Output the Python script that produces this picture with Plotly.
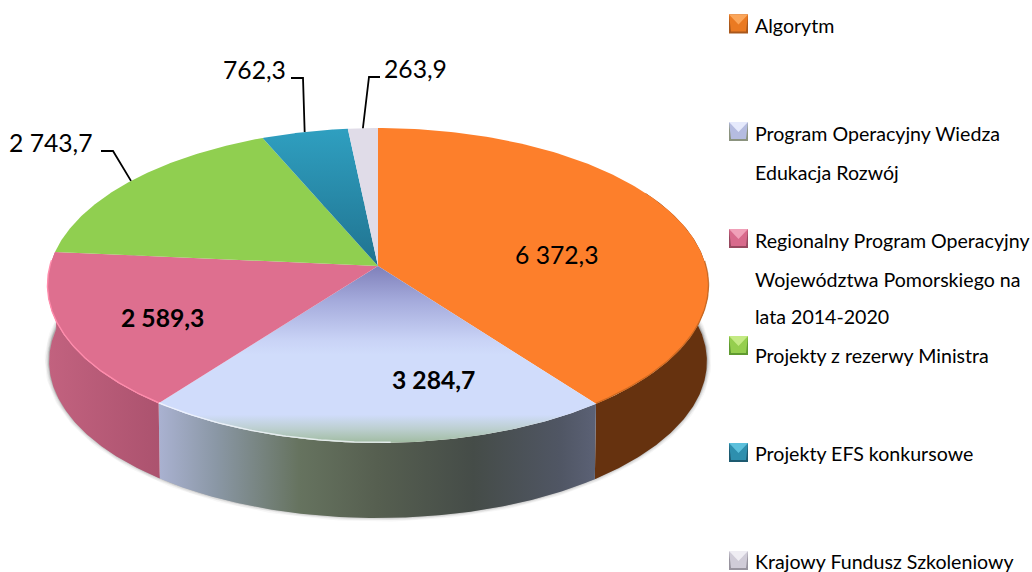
import numpy as np
import plotly.graph_objects as go

# ---- data ----
categories = ["Algorytm", "Program Operacyjny Wiedza Edukacja Rozwój",
              "Regionalny Program Operacyjny Województwa Pomorskiego na lata 2014-2020",
              "Projekty z rezerwy Ministra", "Projekty EFS konkursowe", "Krajowy Fundusz Szkoleniowy"]
values = [6372.3, 3284.7, 2589.3, 2743.7, 762.3, 263.9]
value_labels = ["6 372,3", "3 284,7", "2 589,3", "2 743,7", "762,3", "263,9"]
legend_lines = [["Algorytm"], ["Program Operacyjny Wiedza", "Edukacja Rozwój"],
                ["Regionalny Program Operacyjny", "Województwa Pomorskiego na", "lata 2014-2020"],
                ["Projekty z rezerwy Ministra"], ["Projekty EFS konkursowe"], ["Krajowy Fundusz Szkoleniowy"]]

# ---- layout / style ----
CX, CY = 378.0, 266.0
A, B, K = 328.0, 155.0, 0.1238
DEPTH, SHRINK = 76.0, 0.995
FONT = "Lato"
FS_LEG, FS_LAB = 19.6, 24.7

top_fill = [
    dict(color="#fd7f2b"),
    dict(grad=dict(type="vertical", start=266, stop=443, colorscale=[
        [0, "#7f80ba"], [0.2, "#a5abdc"], [0.42, "#c9d3f6"], [0.5, "#d0dcfb"], [0.84, "#d0dcfb"],
        [0.92, "#bccfd0"], [1, "#a0bba0"]])),
    dict(color="#de6f8f"),
    dict(color="#90cf50"),
    dict(grad=dict(type="vertical", start=129, stop=266, colorscale=[[0, "#2f9fc0"], [1, "#207390"]])),
    dict(color="#e0dce8"),
]
side_fill = [
    dict(color="#66320f"),
    dict(grad=dict(type="horizontal", start=160, stop=595, colorscale=[
        [0, "#a9b1d0"], [0.13, "#8a97a5"], [0.32, "#66735f"], [0.5, "#565f50"], [0.72, "#454c48"],
        [0.92, "#505664"], [1, "#5b6175"]])),
    dict(grad=dict(type="horizontal", start=48, stop=163, colorscale=[[0, "#c2627f"], [1, "#ab526e"]])),
    dict(color="#90cf50"), dict(color="#2f9fc0"), dict(color="#e0dce8"),
]
rim_colors = ["rgba(190,95,25,0.7)", "rgba(245,248,255,0.75)", "#ff8cac", "#90cf50", "#2f9fc0", "#e0dce8"]
leg_y = [24, 131.5, 238.5, 345.5, 452.5, 560.5]
leg_icon = [("#fba65a", "#ea7a22", "#a9581c"), ("#e6eafc", "#b5bce0", "#8b937f"),
            ("#f0a0b8", "#d86a8c", "#97485f"), ("#c4ea84", "#95ce4e", "#5f9a30"),
            ("#5cc0dc", "#2e8fae", "#1d5a70"), ("#efedf3", "#d0ccd8", "#98949f")]
leader_elbow = [None, None, None, [(101, 151), (113, 151)], [(291, 78), (303, 78)], [(380, 77), (369, 77)]]


def project(theta, bottom=False):
    """theta: clockwise degrees from the top of the pie"""
    t = np.radians(theta)
    X, Y = np.sin(t), -np.cos(t)
    d = 1 - K * Y
    s = SHRINK if bottom else 1.0
    return CX + s * A * X / d, CY + (DEPTH if bottom else 0) + s * B * Y / d


def fill_kw(style):
    if "grad" in style:
        return dict(fillgradient=style["grad"])
    return dict(fillcolor=style["color"])


total = sum(values)
edges = np.concatenate([[0], np.cumsum(values)]) / total * 360
fig = go.Figure()


def poly(x, y, **kw):
    fig.add_trace(go.Scatter(x=x, y=y, mode="lines", fill="toself", line=dict(width=0),
                             hoverinfo="skip", **kw))


# soft shadow under the pie
th = np.linspace(0, 360, 361)
bx, by = project(th, True)
for w, op in [(9, 0.035), (7, 0.05), (5, 0.07), (3, 0.10), (1.5, 0.18)]:
    fig.add_trace(go.Scatter(x=bx, y=by - 1, mode="lines", hoverinfo="skip",
                             line=dict(color=f"rgba(40,40,40,{op})", width=w)))

# sides
for i in range(3):
    a0, a1 = max(edges[i], 60), min(edges[i + 1], 300)
    a = np.linspace(a0, a1, 160)
    tx, ty = project(a)
    ux, uy = project(a, True)
    poly(np.concatenate([tx, ux[::-1]]), np.concatenate([ty, uy[::-1]]), **fill_kw(side_fill[i]))

# top faces
for i in range(len(values)):
    a = np.linspace(edges[i], edges[i + 1], 160)
    tx, ty = project(a)
    poly(np.concatenate([[CX], tx, [CX]]), np.concatenate([[CY], ty, [CY]]), **fill_kw(top_fill[i]))

# bevel rim
for i in range(3):
    a = np.linspace(edges[i], edges[i + 1], 160)
    if i == 0:
        a = a[a > 88]
    if i == 1:
        a = a[a > 178]
    if i == 2:
        a = a[a < 272]
    tx, ty = project(a)
    fig.add_trace(go.Scatter(x=tx, y=ty - 0.5, mode="lines", hoverinfo="skip",
                             line=dict(color=rim_colors[i], width=1.4)))

# leader lines, ending on the rim at each slice's mid angle
mids = (edges[:-1] + edges[1:]) / 2
for i, elbow in enumerate(leader_elbow):
    if elbow:
        ex, ey = project(mids[i])
        fig.add_trace(go.Scatter(x=[elbow[0][0], elbow[1][0], ex], y=[elbow[0][1], elbow[1][1], ey],
                                 mode="lines", hoverinfo="skip", line=dict(color="#000000", width=1.8)))

# legend icons
for yc, (hi, mid, lo) in zip(leg_y, leg_icon):
    x0, x1, y0, y1 = 729, 748, yc - 9.5, yc + 9.5
    poly([x0, x1, x1, x0, x0], [y0, y0, y1, y1, y0], fillcolor=lo)
    poly([x0, x1, x1 - 2, x0 + 2, x0], [y0, y0, y1 - 2, y1 - 2, y0], fillcolor=mid)
    poly([x0, x1, (x0 + x1) / 2, x0], [y0, y0, yc + 0.5, y0], fillcolor=hi)

# texts
lab_pos = [(557, 254, False), (433, 379, True), (162, 317, True), (51, 142, False), (254, 69, False), (415, 68, False)]
ann = []
for txt, (x, y, bold) in zip(value_labels, lab_pos):
    ann.append(dict(x=x, y=y, text=f"<b>{txt}</b>" if bold else txt, showarrow=False,
                    font=dict(family=FONT, size=FS_LAB, color="#000000"), xanchor="center", yanchor="middle"))
leg_text_y = [[25.5], [133.5, 172.5], [240.5, 279.5, 316.5], [355.5], [453.5], [561]]
for lines, ys in zip(legend_lines, leg_text_y):
    for ln, y in zip(lines, ys):
        ann.append(dict(x=752.5, y=y, text=ln, showarrow=False, xanchor="left", yanchor="middle",
                        font=dict(family=FONT, size=FS_LEG, color="#000000")))

fig.update_layout(
    width=1032, height=572, margin=dict(l=0, r=0, t=0, b=0), showlegend=False,
    paper_bgcolor="#ffffff", plot_bgcolor="#ffffff", annotations=ann,
    xaxis=dict(range=[0, 1032], visible=False, fixedrange=True),
    yaxis=dict(range=[572, 0], visible=False, fixedrange=True),
)
fig.write_html("out.html", config=dict(displayModeBar=False),
               post_script="document.body.style.margin='0';document.documentElement.style.overflow='hidden';")
